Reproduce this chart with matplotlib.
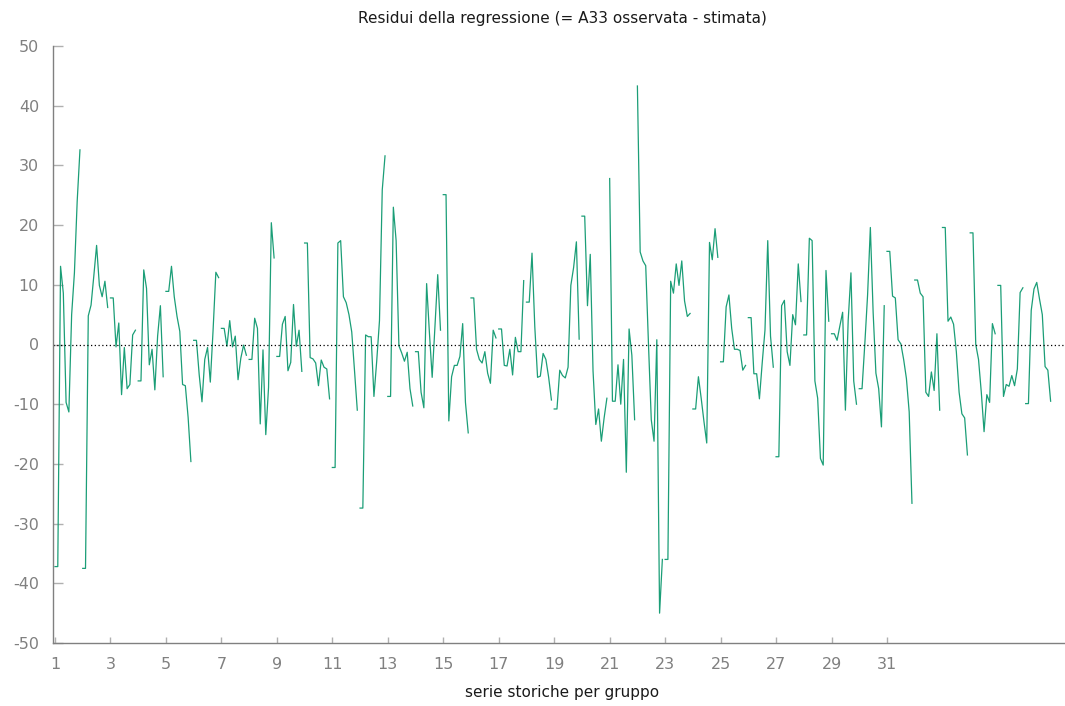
import matplotlib

matplotlib.use('Agg')
import matplotlib.pyplot as plt
import numpy as np

plt.rcParams['axes.unicode_minus'] = False

# --- DATA: residuals per group (10 obs each) ---
T_PER_GROUP = 10
residui = [
    -37.2, -37.2, 13.1, 8.6, -9.7, -11.3, 5.0, 12.0, 24.0, 32.6,        # 1
    -37.5, -37.5, 4.8, 6.6, 11.5, 16.6, 9.9, 8.0, 10.6, 6.2,            # 2
    7.8, 7.8, -0.4, 3.6, -8.4, -0.5, -7.4, -6.7, 1.6, 2.4,              # 3
    -6.1, -6.1, 12.5, 9.4, -3.4, -0.8, -7.6, 1.4, 6.5, -5.4,            # 4
    8.9, 8.9, 13.1, 8.0, 4.7, 2.2, -6.7, -6.9, -12.2, -19.6,            # 5
    0.7, 0.7, -5.1, -9.6, -2.5, -0.5, -6.3, 2.4, 12.1, 11.2,            # 6
    2.7, 2.7, -0.3, 4.0, -0.4, 1.4, -5.9, -2.3, -0.1, -1.8,             # 7
    -2.5, -2.5, 4.4, 2.7, -13.3, -0.9, -15.1, -7.2, 20.4, 14.5,         # 8
    -2.0, -2.0, 3.4, 4.7, -4.4, -3.0, 6.7, -0.3, 2.4, -4.5,             # 9
    17.0, 17.0, -2.2, -2.4, -3.1, -6.9, -2.6, -3.8, -4.1, -9.1,         # 10
    -20.6, -20.6, 17.0, 17.4, 8.0, 7.0, 5.0, 2.1, -4.4, -11.0,          # 11
    -27.4, -27.4, 1.6, 1.3, 1.3, -8.7, -2.8, 4.0, 25.9, 31.6,           # 12
    -8.7, -8.7, 23.0, 17.4, -0.2, -1.4, -2.8, -1.3, -7.4, -10.3,        # 13
    -1.2, -1.2, -8.0, -10.6, 10.2, 2.0, -5.5, 3.0, 11.7, 2.4,           # 14
    25.1, 25.1, -12.8, -5.4, -3.5, -3.5, -2.0, 3.5, -9.7, -14.8,        # 15
    7.8, 7.8, -0.8, -2.5, -3.1, -1.2, -4.8, -6.5, 2.4, 1.1,             # 16
    2.6, 2.6, -3.5, -3.6, -0.8, -5.1, 1.2, -1.2, -1.2, 10.7,            # 17
    7.1, 7.1, 15.3, 3.0, -5.5, -5.3, -1.5, -2.5, -5.5, -9.3,            # 18
    -10.8, -10.8, -4.3, -5.2, -5.6, -3.8, 9.9, 12.9, 17.2, 0.9,         # 19
    21.5, 21.5, 6.5, 15.1, -4.4, -13.4, -10.8, -16.2, -12.3, -9.0,      # 20
    27.8, -9.5, -9.5, -3.4, -10.0, -2.5, -21.4, 2.6, -1.8, -12.6,       # 21
    43.3, 15.5, 14.0, 13.2, 0.0, -12.6, -16.2, 0.8, -45.0, -36.0,       # 22
    -36.0, -36.0, 10.6, 8.6, 13.5, 9.9, 14.0, 7.3, 4.7, 5.2,            # 23
    -10.8, -10.8, -5.4, -9.0, -12.9, -16.5, 17.1, 14.2, 19.4, 14.6,     # 24
    -2.9, -2.9, 6.3, 8.3, 2.7, -0.8, -0.8, -1.0, -4.3, -3.5,            # 25
    4.5, 4.5, -4.9, -4.9, -9.1, -3.1, 2.4, 17.4, 1.4, -3.8,             # 26
    -18.8, -18.8, 6.5, 7.4, -1.2, -3.5, 5.0, 3.3, 13.5, 7.2,            # 27
    1.6, 1.6, 17.8, 17.4, -6.1, -9.0, -19.1, -20.2, 12.4, 3.9,          # 28
    1.8, 1.8, 0.7, 3.1, 5.4, -11.0, 4.0, 12.0, -6.1, -10.0,             # 29
    -7.4, -7.4, 0.1, 8.3, 19.6, 5.4, -4.8, -7.4, -13.8, 6.5,            # 30
    15.6, 15.6, 8.1, 7.8, 0.8, 0.1, -2.5, -5.7, -11.3, -26.6,           # 31
    10.8, 10.8, 8.6, 8.0, -8.0, -8.7, -4.6, -7.7, 1.8, -11.0,           # 32
    19.6, 19.6, 3.9, 4.6, 3.4, -1.2, -8.0, -11.6, -12.3, -18.5,         # 33
    18.7, 18.7, 0.0, -2.5, -8.0, -14.6, -8.4, -9.7, 3.5, 1.8,           # 34
    9.9, 9.9, -8.7, -6.7, -7.0, -5.2, -6.9, -4.1, 8.7, 9.5,             # 35
    -9.9, -9.9, 5.7, 9.3, 10.4, 7.6, 5.0, -3.7, -4.3, -9.5,             # 36
]
xtick_labels = [1, 3, 5, 7, 9, 11, 13, 15, 17, 19, 21, 23, 25, 27, 29, 31]
yticks = [-50, -40, -30, -20, -10, 0, 10, 20, 30, 40, 50]

# --- STYLE ---
LINE_COLOR = '#1b9e77'
GRAY = '#808080'
W, H = 1065, 706

fig = plt.figure(figsize=(W / 100, H / 100), dpi=100)
ax = fig.add_axes([53 / W, 1 - 643 / H, (W - 53) / W, (643 - 46) / H])

res = np.array(residui).reshape(-1, T_PER_GROUP)
t_offset = np.arange(T_PER_GROUP) / T_PER_GROUP
for g, vals in enumerate(res, start=1):
    ax.plot(g + t_offset, vals, color=LINE_COLOR, lw=0.9)

ax.axhline(0, color='black', lw=0.9, ls=(0, (1, 2)))

# x: 1 -> 55px, 31 -> 887px
px_per_unit = (887 - 55) / 30
ax.set_xlim(1 - 2 / px_per_unit, 1 + (W - 55) / px_per_unit)
ax.set_ylim(-50, 50)
ax.set_xticks(xtick_labels)
ax.set_xticklabels([str(v) for v in xtick_labels])
ax.set_yticks(yticks)

for side in ['top', 'right']:
    ax.spines[side].set_visible(False)
for side in ['left', 'bottom']:
    ax.spines[side].set_color(GRAY)
    ax.spines[side].set_linewidth(1.0)

ax.tick_params(axis='y', direction='in', length=7, width=1, color='#b0b0b0',
               labelcolor=GRAY, labelsize=11.5, pad=10)
ax.tick_params(axis='x', direction='in', length=4, width=1, color='#b0b0b0',
               labelcolor=GRAY, labelsize=11.5, pad=10)

fig.text(562 / W, 1 - 18 / H, 'Residui della regressione (= A33 osservata - stimata)',
         ha='center', va='center', fontsize=11, color='#1a1a1a')
fig.text(562 / W, 1 - 692 / H, 'serie storiche per gruppo',
         ha='center', va='center', fontsize=11, color='#1a1a1a')

fig.savefig('out.png', dpi=100)
